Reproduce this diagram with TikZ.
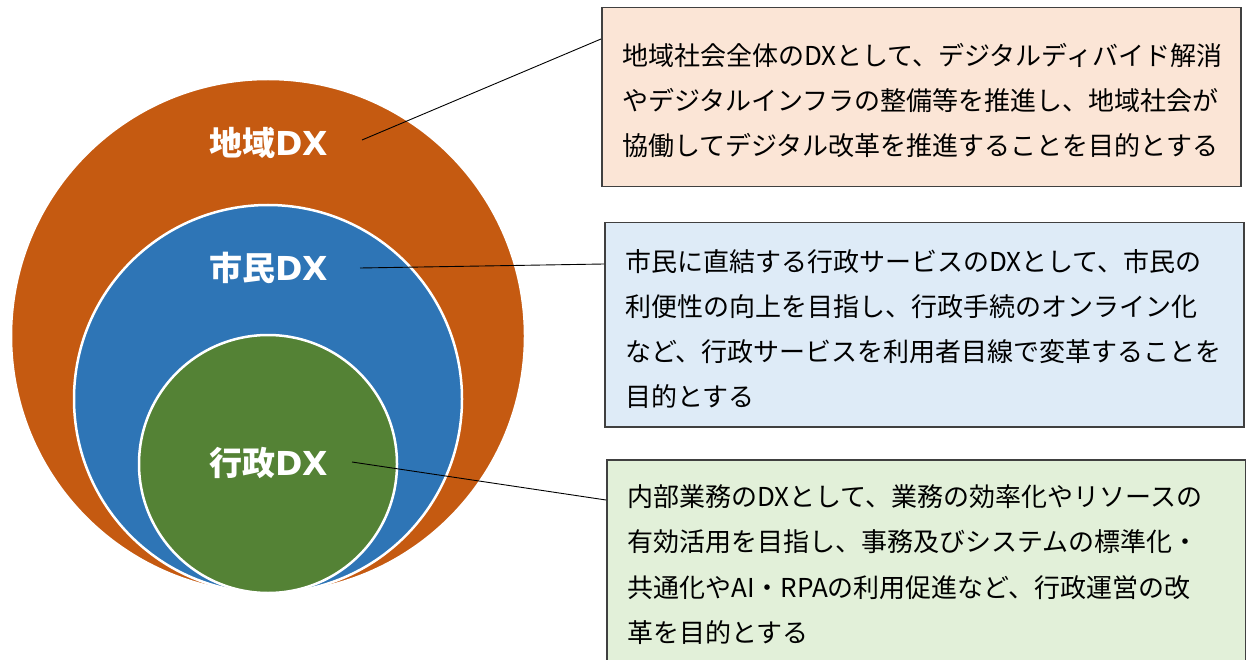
\documentclass[tikz,border=0pt]{standalone}
\usepackage{fontspec}
\newfontfamily\jp{Noto Sans CJK JP}
\newfontfamily\lat{DejaVu Sans}
\definecolor{cOrange}{HTML}{C55A11}
\definecolor{cBlue}{HTML}{2E75B6}
\definecolor{cGreen}{HTML}{548235}
\definecolor{fOrange}{HTML}{FBE5D6}
\definecolor{fBlue}{HTML}{DEEBF7}
\definecolor{fGreen}{HTML}{E2F0D9}
\definecolor{bord}{HTML}{404040}
\newcommand{\dxword}{{\lat\bfseries DX}}
\tikzset{
  ring/.style={circle, draw=white, line width=2.5pt, inner sep=0pt},
  dxlabel/.style={text=white, font={\jp\bfseries\fontsize{33pt}{36pt}\selectfont}, inner sep=0pt},
  descbox/.style={rectangle, draw=bord, line width=1.5pt, anchor=north west, inner sep=0pt, minimum width=639pt},
  desctext/.style={anchor=west, align=left, inner sep=0pt, font={\jp\fontsize{26pt}{45.3pt}\selectfont}},
  leader/.style={draw=black, line width=0.9pt}
}
\begin{document}
\begin{tikzpicture}[x=1pt,y=-1pt]
\useasboundingbox (0,0) rectangle (1246,660);
% circles
\node[ring, fill=cOrange, minimum size=514pt] (c1) at (268,336) {};
\node[ring, fill=cBlue, minimum size=388pt] (c2) at (268,399) {};
\node[ring, fill=cGreen, minimum size=258pt] (c3) at (268,464) {};
% labels
\node[dxlabel] (l1) at (269,143) {地域\dxword};
\node[dxlabel] (l2) at (269,268) {市民\dxword};
\node[dxlabel] (l3) at (269,463) {行政\dxword};
% boxes
\node[descbox, fill=fOrange, minimum height=179pt] (b1) at (601,7) {};
\node[descbox, fill=fBlue, minimum height=204pt] (b2) at (604,222) {};
\node[descbox, fill=fGreen, minimum height=230pt] (b3) at (606,459) {};
% texts
\node[desctext] (t1) at (622,100.5) {地域社会全体のDXとして、デジタルディバイド解消\\やデジタルインフラの整備等を推進し、地域社会が\\協働してデジタル改革を推進することを目的とする};
\node[desctext] (t2) at (625,329) {市民に直結する行政サービスのDXとして、市民の\\利便性の向上を目指し、行政手続のオンライン化\\など、行政サービスを利用者目線で変革することを\\目的とする};
\node[desctext] (t3) at (627,564.5) {内部業務のDXとして、業務の効率化やリソースの\\有効活用を目指し、事務及びシステムの標準化・\\共通化やAI・RPAの利用促進など、行政運営の改\\革を目的とする};
% leaders
\coordinate (s1) at (362,140);
\coordinate (s2) at (360,268);
\coordinate (s3) at (352,462);
\draw[leader] (s1) -- ([yshift=-32pt]b1.north west);
\draw[leader] (s2) -- ([yshift=-42pt]b2.north west);
\draw[leader] (s3) -- ([yshift=-41pt]b3.north west);
\end{tikzpicture}
\end{document}
